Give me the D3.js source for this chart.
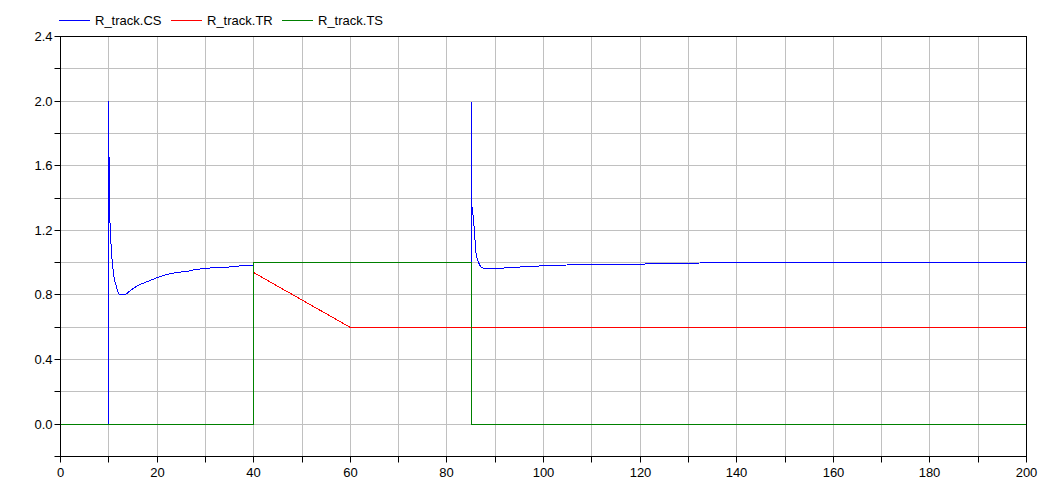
<!DOCTYPE html>
<html>
<head>
<meta charset="utf-8">
<script src="https://cdn.jsdelivr.net/npm/d3@7"></script>
<style>
  html, body { margin: 0; padding: 0; background: #fff; }
  svg { display: block; font-family: "Liberation Sans", Arial, sans-serif; }
</style>
</head>
<body>
<svg id="chart" width="1052" height="481"></svg>
<script>
// ---- data ----
const seriesNames = ["R_track.CS", "R_track.TR", "R_track.TS"];
const seriesColors = ["#0000ff", "#ff0000", "#008000"];

const csTime = [0, 10, 10, 10.15, 10.4, 10.6, 10.8, 11.0, 11.25, 11.5, 11.9, 12.3, 12.7, 13.5, 14.5, 16, 18, 20, 22, 24, 26, 28, 30, 32, 34, 36, 38, 40,
  40, 60, 85, 85, 85.15, 85.45, 85.7, 85.95, 86.2, 86.5, 86.9, 87.5, 88.8, 90, 93.6, 96.9, 101.5, 108.3, 117, 125, 140, 200];
const csValue = [0, 0, 2.0, 1.33, 1.17, 1.06, 0.99, 0.93, 0.89, 0.85, 0.82, 0.805, 0.80, 0.805, 0.83, 0.857, 0.886, 0.907, 0.924, 0.937, 0.946, 0.955, 0.962, 0.968, 0.973, 0.978, 0.981, 0.983,
  0.94, 0.6, 0.6, 2.0, 1.37, 1.27, 1.19, 1.09, 1.04, 1.0, 0.975, 0.965, 0.963, 0.966, 0.972, 0.977, 0.981, 0.986, 0.99, 0.994, 0.998, 1.0];

const trTime = [0, 40, 40, 60, 200];
const trValue = [0, 0, 0.94, 0.6, 0.6];

const tsTime = [0, 40, 40, 85, 85, 200];
const tsValue = [0, 0, 1, 1, 0, 0];

const xTickLabels = [0, 20, 40, 60, 80, 100, 120, 140, 160, 180, 200];
const yTickLabels = [0.0, 0.4, 0.8, 1.2, 1.6, 2.0, 2.4];

// ---- layout ----
const svg = d3.select("#chart");
const L = 60, R = 1026, T = 36, B = 456;
const x = d3.scaleLinear().domain([0, 200]).range([L, R]);
const y = d3.scaleLinear().domain([-0.2, 2.4]).range([B, T]);
const px = v => Math.round(x(v)) + 0.5;
const py = v => Math.round(y(v)) + 0.5;

const gridColor = "#c0c0c0";

// grid
const xGrid = d3.range(10, 200, 10);
const yGrid = d3.range(0, 12).map(i => +(i * 0.2).toFixed(1));
svg.append("g").selectAll("line").data(xGrid).join("line")
  .attr("x1", px).attr("x2", px)
  .attr("y1", T).attr("y2", B)
  .attr("stroke", gridColor).attr("stroke-width", 1);
svg.append("g").selectAll("line").data(yGrid).join("line")
  .attr("y1", py).attr("y2", py)
  .attr("x1", L).attr("x2", R)
  .attr("stroke", gridColor).attr("stroke-width", 1);

// series
const series = [
  csTime.map((t, i) => [t, csValue[i]]),
  trTime.map((t, i) => [t, trValue[i]]),
  tsTime.map((t, i) => [t, tsValue[i]])
];
const line = d3.line().x(d => px(d[0])).y(d => py(d[1]));
series.forEach((s, i) => {
  svg.append("path").datum(s)
    .attr("d", line)
    .attr("fill", "none")
    .attr("stroke", seriesColors[i])
    .attr("stroke-width", 1)
    .attr("shape-rendering", "crispEdges")
    .attr("stroke-linejoin", "miter");
});

// frame
svg.append("rect").attr("x", L + 0.5).attr("y", T + 0.5)
  .attr("width", R - L).attr("height", B - T)
  .attr("fill", "none").attr("stroke", "#000").attr("stroke-width", 1);

// axes
const xAxis = d3.axisBottom(x).tickValues(d3.range(0, 201, 10))
  .tickSize(6).tickFormat(d => xTickLabels.includes(d) ? d3.format("d")(d) : "");
const gx = svg.append("g").attr("transform", `translate(0,${B + 0.5})`).call(xAxis);
gx.select(".domain").remove();
gx.selectAll(".tick").attr("transform", d => `translate(${px(d)},0)`);
gx.selectAll("text").attr("font-size", 13).attr("fill", "#000").attr("dy", "0.9em")
  .attr("font-family", "Liberation Sans, Arial, sans-serif");

const yAxis = d3.axisLeft(y).tickValues(d3.range(-1, 13).map(i => +(i * 0.2).toFixed(1)))
  .tickSize(6).tickFormat(d => yTickLabels.some(v => Math.abs(v - d) < 1e-9) ? d3.format(".1f")(d) : "");
const gy = svg.append("g").attr("transform", `translate(${L + 0.5},0)`).call(yAxis);
gy.select(".domain").remove();
gy.selectAll(".tick").attr("transform", d => `translate(0,${py(d)})`);
gy.selectAll("text").attr("font-size", 13).attr("fill", "#000").attr("x", -8)
  .attr("font-family", "Liberation Sans, Arial, sans-serif");

// legend
const legendX = [59, 171, 282];
const lg = svg.append("g");
seriesNames.forEach((n, i) => {
  lg.append("line").attr("x1", legendX[i]).attr("x2", legendX[i] + 31)
    .attr("y1", 20.5).attr("y2", 20.5)
    .attr("stroke", seriesColors[i]).attr("stroke-width", 1);
  lg.append("text").attr("x", legendX[i] + 36).attr("y", 25)
    .attr("font-size", 13).attr("fill", "#000").text(n);
});
</script>
</body>
</html>
